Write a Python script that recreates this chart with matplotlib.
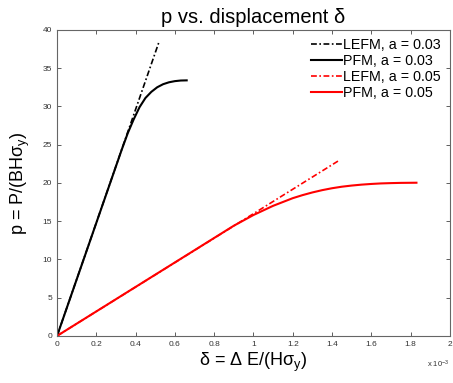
"""Load vs. displacement: LEFM vs PFM for two crack lengths."""

import matplotlib
matplotlib.use("Agg")
import matplotlib.pyplot as plt
from matplotlib.ticker import FormatStrFormatter

plt.rcParams["font.family"] = ["Liberation Sans", "DejaVu Sans"]
plt.rcParams["mathtext.fontset"] = "custom"
plt.rcParams["mathtext.rm"] = "Liberation Sans"
plt.rcParams["mathtext.it"] = "Liberation Sans:italic"

# displacement in units of 1e-3
lefm_a03_x = [0.0, 0.52]
lefm_a03_y = [0.0, 38.5]
pfm_a03_x = [0.0, 0.33, 0.36, 0.39, 0.42, 0.45, 0.48, 0.51, 0.54, 0.57, 0.60, 0.63, 0.66]
pfm_a03_y = [0.0, 24.4, 26.5, 28.3, 29.9, 31.1, 31.9, 32.5, 32.9, 33.15, 33.3, 33.38, 33.4]

lefm_a05_x = [0.0, 1.44]
lefm_a05_y = [0.0, 23.0]
pfm_a05_x = [0.0, 0.9, 0.95, 1.0, 1.05, 1.1, 1.15, 1.2, 1.25, 1.3, 1.35, 1.4,
             1.45, 1.5, 1.55, 1.6, 1.65, 1.7, 1.75, 1.83]
pfm_a05_y = [0.0, 14.4, 15.1, 15.8, 16.4, 17.0, 17.5, 18.0, 18.4, 18.75, 19.05, 19.3,
             19.5, 19.65, 19.77, 19.86, 19.93, 19.97, 20.0, 20.02]

fig = plt.figure(figsize=(4.53, 3.83), dpi=100)
ax = fig.add_axes([0.126, 0.123, 0.867, 0.799])

dashdot = (0, (3.5, 1.5, 1, 1.5))
ax.plot(lefm_a03_x, lefm_a03_y, color="black", linestyle=dashdot, lw=1.2, label="LEFM, a = 0.03")
ax.plot(pfm_a03_x, pfm_a03_y, color="black", linestyle="-", lw=1.5, label="PFM, a = 0.03")
ax.plot(lefm_a05_x, lefm_a05_y, color="red", linestyle=dashdot, lw=1.2, label="LEFM, a = 0.05")
ax.plot(pfm_a05_x, pfm_a05_y, color="red", linestyle="-", lw=1.5, label="PFM, a = 0.05")

ax.set_xlim(0, 2)
ax.set_ylim(0, 40)
ax.set_xticks([0, 0.2, 0.4, 0.6, 0.8, 1.0, 1.2, 1.4, 1.6, 1.8, 2.0])
ax.set_yticks(range(0, 41, 5))
ax.xaxis.set_major_formatter(FormatStrFormatter("%g"))
ax.tick_params(direction="in", top=True, right=True, labelsize=6, length=3,
               width=0.6, colors="#444444", labelcolor="#333333")
for s in ax.spines.values():
    s.set_color("#666666")
    s.set_linewidth(0.8)

ax.set_title("p vs. displacement δ", fontsize=14.5, pad=5)
ax.set_xlabel(r"δ = Δ E/(Hσ$_\mathrm{y}$)", fontsize=13, labelpad=2)
ax.set_ylabel(r"p = P/(BHσ$_\mathrm{y}$)", fontsize=13, labelpad=8)
ax.text(1.0, -0.075, r"x 10$^{-3}$", transform=ax.transAxes, ha="right", va="top",
        fontsize=5.5, color="#333333")

ax.legend(loc="upper right", frameon=False, fontsize=10.3, handlelength=2.2,
          handletextpad=0.1, labelspacing=0.12, borderaxespad=0.2)

fig.savefig("out.png", dpi=100)
